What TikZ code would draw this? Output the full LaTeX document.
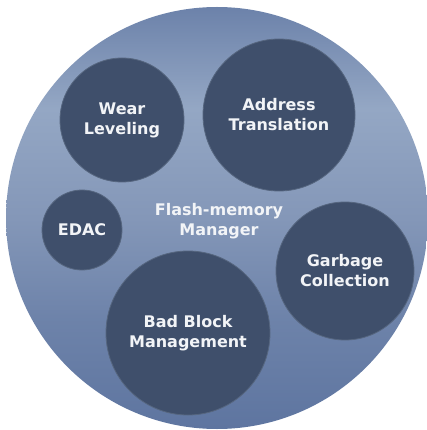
\documentclass[tikz,border=0pt]{standalone}
\usepackage{fontspec}
\setmainfont{DejaVu Sans}
\usepackage{tikz}
\usetikzlibrary{shapes}
\definecolor{bdisc}{HTML}{3F4F6B}
\definecolor{bedge}{HTML}{56667F}
\definecolor{btop}{HTML}{6C82AA}
\definecolor{blight}{HTML}{94A7C4}
\definecolor{bmid}{HTML}{8497B8}
\definecolor{bbot}{HTML}{5E75A0}
\definecolor{btext}{HTML}{F2F4F7}
\pgfdeclareverticalshading{platter}{100bp}{color(0bp)=(bbot); color(25bp)=(bbot); color(38bp)=(bbot!60!bmid); color(50bp)=(bmid); color(63bp)=(blight); color(75bp)=(btop); color(100bp)=(btop)}
\tikzstyle{task} = [circle, fill=bdisc, draw=bedge, line width=0.8pt, inner sep=0pt, text=btext, align=center, font=\bfseries\fontsize{16}{20}\selectfont]
\tikzstyle{title} = [text=btext, align=center, font=\bfseries\fontsize{16}{19.5}\selectfont]

\begin{document}
\begin{tikzpicture}[x=1pt, y=-1pt]
\useasboundingbox (0,0) rectangle (427,430);
%% outer disc
\node[circle, minimum size=422pt, shading=platter] at (217,218) (manager) {};
\node[title] at (219,221) (managerlabel) {Flash-memory\\Manager};

%% tasks
\node[task, minimum size=124pt] at (122,120) (wear) {Wear\\Leveling};
\node[task, minimum size=152pt] at (279,115) (addr) {Address\\Translation};
\node[task, minimum size=80pt] at (82,230) (edac) {EDAC};
\node[task, minimum size=138pt] at (345,271) (gc) {Garbage\\Collection};
\node[task, minimum size=164pt] at (188,333) (bbm) {Bad Block\\Management};
\end{tikzpicture}
\end{document}
